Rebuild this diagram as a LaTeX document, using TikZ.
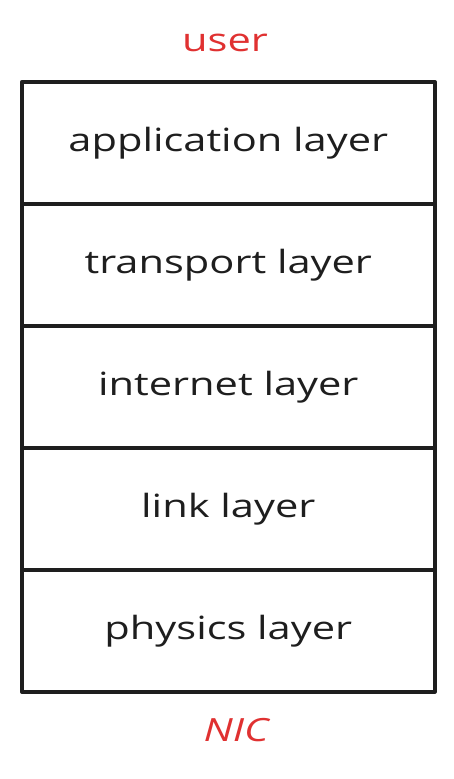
\documentclass[tikz,border=0pt]{standalone}
\usepackage{fontspec}
\setmainfont{Open Sans}
\newfontfamily\handfont[FakeStretch=1.3]{Open Sans}
\definecolor{ink}{HTML}{1E1E1E}
\definecolor{exred}{HTML}{E03131}
\begin{document}
\begin{tikzpicture}[x=1pt,y=-1pt,
  layerbox/.style={draw=ink, line width=3.6pt, line join=round, fill=white,
    minimum width=413pt, minimum height=122pt, inner sep=0pt, anchor=north west,
    font=\handfont\fontsize{32}{36}\selectfont, text=ink},
  redlabel/.style={font=\handfont\fontsize{32}{36}\selectfont, text=exred, inner sep=0pt}]
\useasboundingbox (0,0) rectangle (453,779);
\fill[white] (0,0) rectangle (453,779);
\node[layerbox] (app) at (20,80) {application layer};
\node[layerbox] (trans) at (20,202) {transport layer};
\node[layerbox] (inet) at (20,324) {internet layer};
\node[layerbox] (link) at (20,446) {link layer};
\node[layerbox] (phys) at (20,568) {physics layer};
\node[redlabel] (user) at (225,43) {user};
\node[redlabel] (nic) at (236,730) {\itshape NIC};
\end{tikzpicture}
\end{document}
